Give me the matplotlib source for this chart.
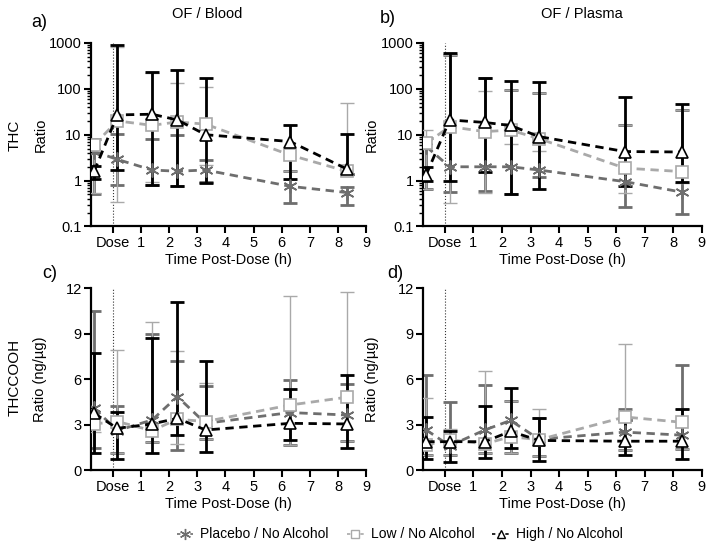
import numpy as np
import matplotlib
matplotlib.use("Agg")
import matplotlib.pyplot as plt
from matplotlib.ticker import FuncFormatter, LogLocator, NullFormatter
from matplotlib.lines import Line2D

plt.rcParams['font.family'] = ['Liberation Sans', 'DejaVu Sans']

#%% data
t = [-0.65, 0.17, 1.4, 2.3, 3.3, 6.3, 8.3]
xtick_labels = ["Dose", "1", "2", "3", "4", "5", "6", "7", "8", "9"]

# a) THC OF / Blood
placebo_a = [4.3, 2.9, 1.7, 1.6, 1.7, 0.75, 0.55]
placebo_a_lo = [0.5, 0.8, 0.8, 0.77, 0.95, 0.33, 0.29]
placebo_a_hi = [8.0, 10.4, 8.1, 10.0, 2.8, 1.6, 0.72]
low_a = [6.0, 20, 16, 19, 17, 3.6, 1.6]
low_a_lo = [0.53, 0.35, 0.95, 0.75, 2.2, 1.6, 1.3]
low_a_hi = [7.7, 800, 220, 134, 112, 16, 49]
high_a = [1.6, 27, 28, 21, 10, 7.1, 1.8]
high_a_lo = [1.1, 1.7, 0.8, 0.77, 0.9, 1.1, 1.4]
high_a_hi = [2.1, 900, 230, 260, 175, 16, 10.3]

# b) THC OF / Plasma
placebo_b = [5.5, 2.0, 2.0, 2.0, 1.7, 0.95, 0.56]
placebo_b_lo = [0.66, 0.57, 0.6, 0.5, 1.2, 0.27, 0.19]
placebo_b_hi = [8.3, 560, 170, 95, 80, 15.9, 35]
low_b = [6.5, 15, 11.7, 12.6, 8.2, 1.87, 1.57]
low_b_lo = [0.66, 0.32, 0.55, 6.2, 4.4, 0.53, 0.9]
low_b_hi = [12.6, 560, 90, 95, 80, 15.9, 35]
high_b = [1.35, 21, 18.5, 15.9, 9.1, 4.3, 4.2]
high_b_lo = [1.0, 1.0, 1.57, 0.5, 0.67, 0.78, 0.95]
high_b_hi = [2.0, 600, 170, 148, 138, 65, 47]

# c) THCCOOH OF / Blood
placebo_c = [4.07, 2.6, 3.3, 4.84, 3.08, 3.79, 3.63]
placebo_c_lo = [1.45, 1.15, 1.87, 1.32, 2.03, 1.65, 1.9]
placebo_c_hi = [10.5, 4.2, 9.0, 7.2, 5.55, 5.94, 5.7]
low_c = [3.04, 3.2, 2.6, 3.35, 3.2, 4.29, 4.8]
low_c_lo = [2.5, 1.15, 1.87, 1.72, 2.03, 1.65, 1.9]
low_c_hi = [3.4, 7.9, 9.75, 7.88, 5.73, 11.5, 11.78]
high_c = [3.74, 2.75, 3.04, 3.41, 2.64, 3.08, 3.04]
high_c_lo = [1.1, 0.7, 1.15, 2.3, 1.21, 1.98, 1.43]
high_c_hi = [7.75, 3.8, 8.7, 11.1, 7.2, 5.33, 6.27]

# d) THCCOOH OF / Plasma
placebo_d = [2.64, 1.6, 2.64, 3.27, 2.03, 2.5, 2.3]
placebo_d_lo = [1.0, 1.0, 1.1, 1.1, 0.9, 1.3, 1.36]
placebo_d_hi = [6.27, 4.5, 5.6, 4.57, 3.4, 4.0, 6.95]
low_d = [1.65, 2.0, 1.72, 2.2, 2.0, 3.5, 3.15]
low_d_lo = [1.0, 1.0, 1.1, 1.1, 0.9, 1.3, 1.36]
low_d_hi = [4.74, 2.7, 6.55, 4.57, 4.0, 8.33, 4.0]
high_d = [1.87, 1.87, 1.87, 2.55, 1.95, 1.9, 1.9]
high_d_lo = [0.7, 0.5, 0.78, 1.43, 0.6, 1.0, 0.75]
high_d_hi = [3.5, 2.55, 4.24, 5.43, 3.4, 3.3, 4.0]

#%% styles
c_pl = "#6e6e6e"
c_lo = "#a9a9a9"
c_hi = "#000000"
star = (6, 2, 0)


def draw(ax, pl, pl_lo, pl_hi, lo, lo_lo, lo_hi, hi, hi_lo, hi_hi):
    series = [
        (pl, pl_lo, pl_hi, c_pl, star, c_pl, 2.0, 10),
        (lo, lo_lo, lo_hi, c_lo, "s", "white", 1.0, 8),
        (hi, hi_lo, hi_hi, c_hi, "^", "white", 2.0, 9),
    ]
    for i, (v, vlo, vhi, col, mk, fc, elw, ms) in enumerate(series):
        v = np.array(v)
        yerr = [v - np.array(vlo), np.array(vhi) - v]
        ax.errorbar(t, v, yerr=yerr, fmt="none", ecolor=col, elinewidth=elw,
                    capsize=5, capthick=elw, zorder=2 + i)
    for i, (v, vlo, vhi, col, mk, fc, elw, ms) in enumerate(series):
        ax.plot(t, v, ls=(0, (3, 2)), lw=2, color=col, marker=mk, ms=ms,
                mfc=fc, mec=col, mew=1.2, zorder=6 + i)
    ax.axvline(0, color="#333333", lw=0.8, ls=":", zorder=1)
    ax.set_xlim(-0.75, 9)
    ax.set_xticks(range(10))
    ax.set_xticklabels(xtick_labels)
    ax.spines["top"].set_visible(False)
    ax.spines["right"].set_visible(False)
    ax.spines["left"].set_linewidth(1.6)
    ax.spines["bottom"].set_linewidth(1.6)
    ax.tick_params(axis="both", which="major", direction="out", length=5,
                   width=1.5, labelsize=10.5, pad=2)
    ax.tick_params(axis="y", which="minor", direction="out", length=3, width=1.0)
    ax.set_xlabel("Time Post-Dose (h)", fontsize=10.5, labelpad=2)


fig = plt.figure(figsize=(7.14, 5.51), dpi=100)
ax_a = fig.add_axes([0.128, 0.589, 0.385, 0.333])
ax_b = fig.add_axes([0.593, 0.589, 0.390, 0.333])
ax_c = fig.add_axes([0.128, 0.147, 0.385, 0.330])
ax_d = fig.add_axes([0.593, 0.147, 0.390, 0.330])

draw(ax_a, placebo_a, placebo_a_lo, placebo_a_hi, low_a, low_a_lo, low_a_hi,
     high_a, high_a_lo, high_a_hi)
draw(ax_b, placebo_b, placebo_b_lo, placebo_b_hi, low_b, low_b_lo, low_b_hi,
     high_b, high_b_lo, high_b_hi)
draw(ax_c, placebo_c, placebo_c_lo, placebo_c_hi, low_c, low_c_lo, low_c_hi,
     high_c, high_c_lo, high_c_hi)
draw(ax_d, placebo_d, placebo_d_lo, placebo_d_hi, low_d, low_d_lo, low_d_hi,
     high_d, high_d_lo, high_d_hi)

for ax in (ax_a, ax_b):
    ax.set_yscale("log")
    ax.set_ylim(0.1, 1000)
    ax.yaxis.set_major_locator(LogLocator(base=10, numticks=10))
    ax.yaxis.set_minor_locator(LogLocator(base=10, subs=np.arange(2, 10), numticks=10))
    ax.yaxis.set_minor_formatter(NullFormatter())
    ax.yaxis.set_major_formatter(FuncFormatter(lambda v, p: "%g" % v))
    ax.set_ylabel("Ratio", fontsize=10.5)
    ax.yaxis.set_label_coords(-0.16, 0.5)

for ax in (ax_c, ax_d):
    ax.set_ylim(0, 12)
    ax.set_yticks([0, 3, 6, 9, 12])
    ax.set_ylabel("Ratio (ng/\u00b5g)", fontsize=10.5)
    ax.yaxis.set_label_coords(-0.16, 0.5)

fig.text(0.29, 0.975, "OF / Blood", ha="center", va="center", fontsize=10.5)
fig.text(0.815, 0.975, "OF / Plasma", ha="center", va="center", fontsize=10.5)
fig.text(0.055, 0.96, "a)", ha="center", va="center", fontsize=13)
fig.text(0.543, 0.967, "b)", ha="center", va="center", fontsize=13)
fig.text(0.07, 0.503, "c)", ha="center", va="center", fontsize=13)
fig.text(0.553, 0.503, "d)", ha="center", va="center", fontsize=13)
fig.text(0.021, 0.755, "THC", rotation=90, ha="center", va="center", fontsize=11)
fig.text(0.021, 0.315, "THCCOOH", rotation=90, ha="center", va="center", fontsize=11)

handles = [
    Line2D([], [], ls=(0, (2, 2)), lw=1.2, color=c_pl, marker=star, ms=8, mec=c_pl, mew=1),
    Line2D([], [], ls=(0, (2, 2)), lw=1.2, color=c_lo, marker="s", ms=6, mfc="white", mec=c_lo, mew=1),
    Line2D([], [], ls=(0, (2, 2)), lw=1.2, color=c_hi, marker="^", ms=6, mfc="white", mec=c_hi, mew=1),
]
labels = ["Placebo / No Alcohol", "Low / No Alcohol", "High / No Alcohol"]
fig.legend(handles, labels, loc="center", bbox_to_anchor=(0.56, 0.03), ncol=3,
           frameon=False, fontsize=10, handlelength=1.2, columnspacing=1.3,
           handletextpad=0.5)

fig.savefig("out.png", dpi=100)
